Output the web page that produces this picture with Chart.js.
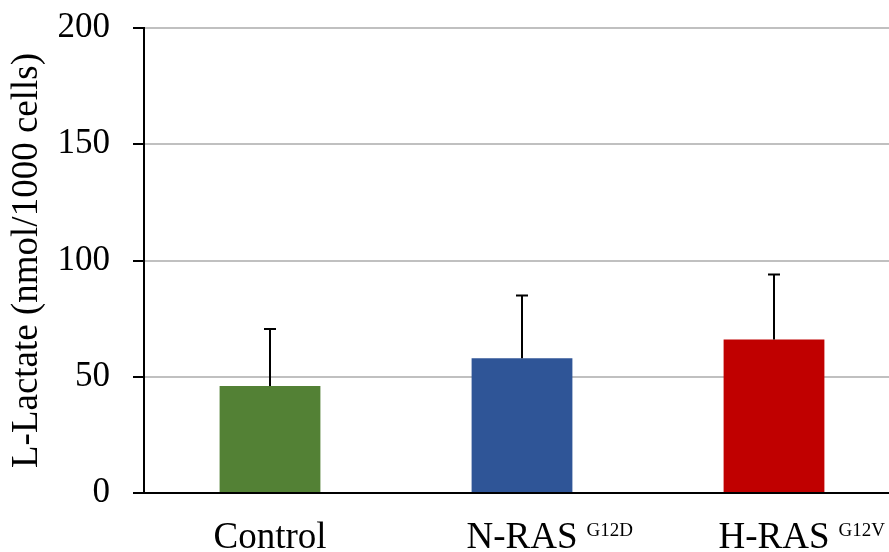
<!DOCTYPE html>
<html>
<head>
<meta charset="utf-8">
<script src="https://cdn.jsdelivr.net/npm/chart.js@4.4.1/dist/chart.umd.min.js"></script>
<style>
  html, body { margin: 0; padding: 0; background: #fff; overflow: hidden; width: 889px; height: 552px; }
  canvas { display: block; }
</style>
</head>
<body>
<canvas id="lactateChart" width="900" height="552"></canvas>
<script>
// Lactate per 1000 cells, mean and SD for each cell line
var groups = ['Control', 'N-RAS', 'H-RAS'];
var mutations = ['', 'G12D', 'G12V'];
var means = [46, 58, 66];
var sds = [24.5, 27, 28];
var barColors = ['#538135', '#2F5597', '#C00000'];
var yTicks = [0, 50, 100, 150, 200];

var serif = "'Liberation Serif', 'Times New Roman', serif";

// Upper error whiskers above each bar
var errorBars = {
    id: 'errorBars',
    afterDatasetsDraw: function(chart) {
        var ctx = chart.ctx;
        var meta = chart.getDatasetMeta(0);
        var y = chart.scales.y;
        ctx.save();
        ctx.strokeStyle = '#000';
        ctx.lineWidth = 2;
        meta.data.forEach(function(bar, i) {
            var top = y.getPixelForValue(means[i] + sds[i]);
            var base = y.getPixelForValue(means[i]);
            ctx.beginPath();
            ctx.moveTo(bar.x, base);
            ctx.lineTo(bar.x, top);
            ctx.moveTo(bar.x - 6, top);
            ctx.lineTo(bar.x + 6, top);
            ctx.stroke();
        });
        ctx.restore();
    }
};

// Superscript mutation names after the category labels
var superscripts = {
    id: 'superscripts',
    afterDraw: function(chart) {
        var ctx = chart.ctx;
        var x = chart.scales.x;
        ctx.save();
        ctx.fillStyle = '#000';
        groups.forEach(function(g, i) {
            if (!mutations[i]) return;
            ctx.font = '37px ' + serif;
            var w = ctx.measureText(g).width;
            var cx = x.getPixelForValue(i);
            ctx.font = '19px ' + serif;
            ctx.textAlign = 'left';
            ctx.textBaseline = 'alphabetic';
            ctx.fillText(mutations[i], cx + w / 2 + 9, x.top + 43);
        });
        ctx.restore();
    }
};

var ctx = document.getElementById('lactateChart').getContext('2d');
var chart = new Chart(ctx, {
    type: 'bar',
    data: {
        labels: groups,
        datasets: [{
            data: means,
            backgroundColor: barColors,
            barPercentage: 0.4,
            categoryPercentage: 1.0
        }]
    },
    options: {
        responsive: false,
        animation: false,
        layout: { padding: { top: 28, right: 0, bottom: 0, left: 0 } },
        plugins: {
            legend: { display: false },
            tooltip: { enabled: false }
        },
        scales: {
            x: {
                afterFit: function(scale) { scale.height = 59; },
                grid: { display: false, drawTicks: false },
                border: { color: '#000', width: 2 },
                ticks: {
                    color: '#000',
                    padding: 23,
                    font: { family: serif, size: 37 }
                }
            },
            y: {
                min: 0,
                max: 200,
                afterFit: function(scale) {
                    scale.width = 144;
                    scale.paddingTop = 0;
                    scale.paddingBottom = 0;
                },
                afterBuildTicks: function(scale) {
                    scale.ticks = yTicks.map(function(v) { return { value: v }; });
                },
                grid: {
                    color: '#c0c0c0',
                    lineWidth: 2,
                    tickColor: '#000',
                    tickWidth: 2,
                    tickLength: 11
                },
                border: { color: '#000', width: 2 },
                ticks: {
                    color: '#000',
                    padding: 23,
                    font: { family: serif, size: 35 }
                },
                title: {
                    display: true,
                    text: 'L-Lactate (nmol/1000 cells)',
                    color: '#000',
                    font: { family: serif, size: 37 },
                    padding: { top: 5, bottom: 0 }
                }
            }
        }
    },
    plugins: [errorBars, superscripts]
});
</script>
</body>
</html>
